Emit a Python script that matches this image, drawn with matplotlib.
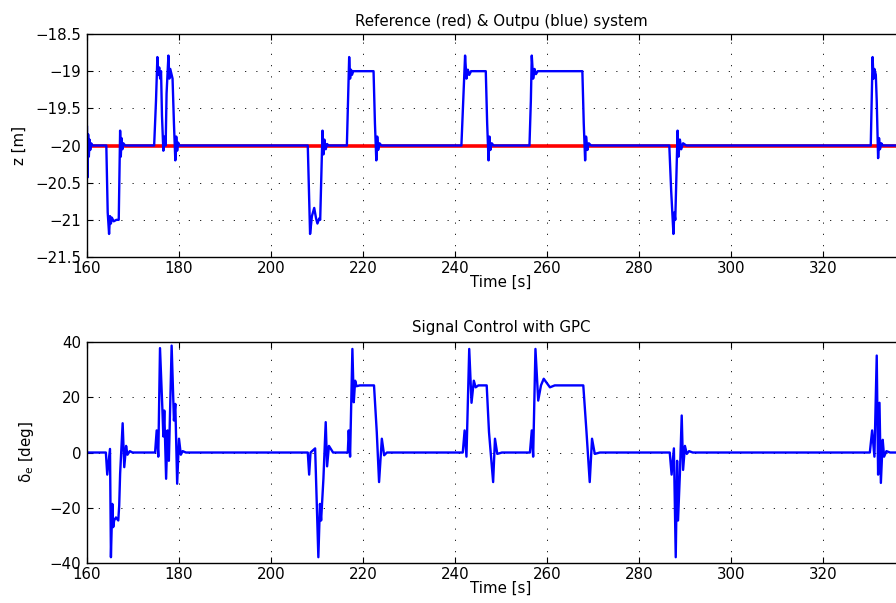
import matplotlib
matplotlib.use("Agg")
import matplotlib.pyplot as plt
from matplotlib.ticker import FuncFormatter, MultipleLocator

t_ref = [160, 340]
z_ref = [-20, -20]

t_z = [160.0, 160.1, 160.25, 160.4, 160.55, 160.7, 160.9, 161.2,
       164.2, 164.5, 164.8, 165.0, 165.2, 165.4, 165.8, 166.4, 166.9,
       167.2, 167.35, 167.5, 167.7, 167.9, 168.3,
       174.6, 175.0, 175.3, 175.5, 175.7, 175.9, 176.1, 176.3, 176.6, 176.9,
       177.1, 177.3, 177.7, 177.9, 178.1, 178.4, 178.6, 178.9, 179.2, 179.4,
       179.6, 179.8, 180.1,
       208.0, 208.3, 208.5, 208.9, 209.4, 209.8, 210.1, 210.5, 210.7, 211.0,
       211.2, 211.4, 211.6, 211.9, 212.2, 212.5,
       216.5, 216.8, 217.0, 217.2, 217.4, 217.6, 217.9, 222.3, 222.6, 222.9,
       223.1, 223.3, 223.6, 224.0,
       241.4, 241.8, 242.2, 242.5, 242.8, 243.1, 243.5, 246.7, 247.0, 247.3,
       247.5, 247.7, 248.0, 248.4,
       256.2, 256.5, 256.7, 257.0, 257.3, 257.6, 258.0, 267.7, 268.0, 268.3,
       268.5, 268.8, 269.1, 269.6,
       286.6, 287.0, 287.5, 287.7, 287.9, 288.1, 288.4, 288.6, 288.9, 289.2,
       289.6, 290.3,
       330.4, 330.6, 330.8, 331.0, 331.2, 331.5, 331.7, 332.0, 332.2, 332.4,
       332.7, 333.0, 340.0]
z_out = [-19.75, -20.43, -19.85, -20.15, -19.92, -20.06, -19.97, -20.0,
         -20.0, -20.9, -21.19, -20.95, -21.05, -20.97, -21.02, -21.0, -21.0,
         -19.8, -20.15, -19.9, -20.05, -19.97, -20.0,
         -20.0, -19.4, -18.81, -19.05, -18.95, -19.1, -19.0, -19.6, -20.07, -19.88,
         -20.0, -19.3, -18.79, -19.1, -18.97, -19.05, -19.1, -19.7, -20.2, -19.88,
         -20.07, -19.96, -20.0,
         -20.0, -20.7, -21.19, -20.95, -20.84, -20.98, -21.05, -20.98, -21.0, -20.3,
         -19.8, -20.12, -19.92, -20.05, -19.98, -20.0,
         -20.0, -19.3, -18.81, -19.1, -18.98, -19.05, -19.0, -19.0, -19.7, -20.2,
         -19.88, -20.06, -19.97, -20.0,
         -20.0, -19.4, -18.79, -19.1, -18.98, -19.05, -19.0, -19.0, -19.7, -20.2,
         -19.88, -20.06, -19.97, -20.0,
         -20.0, -19.4, -18.79, -19.1, -18.97, -19.04, -19.0, -19.0, -19.7, -20.2,
         -19.88, -20.06, -19.97, -20.0,
         -20.0, -20.6, -21.19, -20.9, -21.0, -20.5, -19.8, -20.15, -19.92, -20.05,
         -19.97, -20.0,
         -20.0, -19.4, -18.81, -19.1, -18.97, -19.05, -19.4, -20.17, -19.9, -20.05,
         -19.97, -20.0, -20.0]

# elevator deflection from the GPC controller
t_d = [160.0, 164.1, 164.4, 165.0, 165.2, 165.5, 165.7, 165.9, 166.3, 166.8,
       167.0, 167.2, 167.75, 168.1, 168.5, 168.8, 169.3, 169.9,
       174.8, 175.15, 175.5, 175.87, 176.4, 176.6, 176.8, 177.2, 177.5, 177.8,
       178.4, 178.9, 179.2, 179.6, 180.0, 180.4, 180.8, 181.5,
       208.0, 208.3, 208.6, 209.6, 210.3, 210.65, 210.9, 211.4, 211.9, 212.2,
       212.6, 213.5,
       216.7, 216.9, 217.2, 217.7, 218.0, 218.3, 218.6, 219.3, 222.4, 223.0,
       223.5, 224.1, 224.6, 225.2,
       241.7, 242.1, 242.5, 243.1, 243.6, 244.1, 244.5, 245.1, 246.9, 247.4,
       248.3, 248.7, 249.2, 250.2,
       256.3, 256.7, 257.0, 257.5, 258.1, 258.7, 259.3, 260.65, 261.7, 267.9,
       268.6, 269.3, 269.8, 270.4, 271.5,
       286.7, 287.1, 287.6, 288.0, 288.3, 288.5, 288.9, 289.3, 289.6, 290.0,
       290.4, 290.9, 291.7,
       330.2, 330.7, 331.2, 331.7, 332.0, 332.3, 332.6, 333.0, 333.3, 333.8,
       334.6, 340.0]
delta = [0, 0, -8, 1.3, -37.9, -18.6, -27, -24.6, -23.5, -24.6,
         -19.2, -7.7, 10.6, -5.3, 2.4, -0.8, 0.5, 0,
         0, 8, -1.5, 37.8, 15.2, 5.8, 15.2, -9.5, 8, -3,
         38.7, 11.6, 17.6, -11.3, 5, -0.8, 0.5, 0,
         0, -8, 0, 1.5, -37.9, -18.6, -24.6, -9.5, 11, -5,
         2.4, 0,
         0, 8, -1.5, 37.5, 18.2, 26, 24, 24.3, 24.3, 7.4,
         -10.7, 5, -1, 0,
         0, 8, -1.5, 37.5, 18, 26, 23.6, 24.3, 24.3, 7.4,
         -10.7, 5, -0.5, 0,
         0, 8, -1.5, 37.5, 18.8, 24.3, 26.7, 23.6, 24.3, 24.3,
         7.4, -10.7, 5, -0.5, 0,
         0, -8, 1.5, -37.9, -3, -24.6, -8, 13.4, -6.3, 2.4,
         -0.5, 0.5, 0,
         0, 8, -1.5, 35.1, -8, 18, -11, 4.6, -1.5, 0.5,
         0, 0]

x_ticks = [160, 180, 200, 220, 240, 260, 280, 300, 320]

plt.rcParams["font.family"] = ["DejaVu Sans"]
plt.rcParams["mathtext.default"] = "regular"
fs = 10.8

fig = plt.figure(figsize=(8.96, 6.03), dpi=100)
ax1 = fig.add_axes([0.0971, 0.5738, 0.924, 0.3698])
ax2 = fig.add_axes([0.0971, 0.0663, 0.924, 0.3665])

fmt = FuncFormatter(lambda v, p: ("%g" % v).replace("-", "\u2212"))

def style(ax):
    ax.set_xlim(160, 340)
    ax.set_xticks(x_ticks)
    ax.yaxis.set_major_formatter(fmt)
    ax.grid(True, color="black", linewidth=0.6, linestyle=(0, (1.5, 12)))
    ax.tick_params(direction="in", top=True, right=True, length=4,
                   labelsize=fs, colors="black")
    ax.tick_params(axis="x", pad=3)
    ax.tick_params(axis="y", pad=4)
    for s in ax.spines.values():
        s.set_linewidth(1.0)
    ax.set_xlabel("Time [s]", fontsize=fs, labelpad=-1)

ax1.plot(t_ref, z_ref, color="red", linewidth=2.6)
ax1.plot(t_z, z_out, color="blue", linewidth=1.7)
ax1.set_ylim(-21.5, -18.5)
ax1.yaxis.set_major_locator(MultipleLocator(0.5))
style(ax1)
ax1.set_ylabel("z [m]", fontsize=fs, labelpad=6)
ax1.set_title("Reference (red) & Outpu (blue) system", fontsize=fs, pad=6)

ax2.plot(t_d, delta, color="blue", linewidth=1.7)
ax2.set_ylim(-40, 40)
ax2.yaxis.set_major_locator(MultipleLocator(20))
style(ax2)
ax2.set_ylabel(r"$\delta_e$ [deg]", fontsize=fs, labelpad=10)
ax2.set_title("Signal Control with GPC", fontsize=fs, pad=7)

fig.savefig("out.png", dpi=100, facecolor="white")
